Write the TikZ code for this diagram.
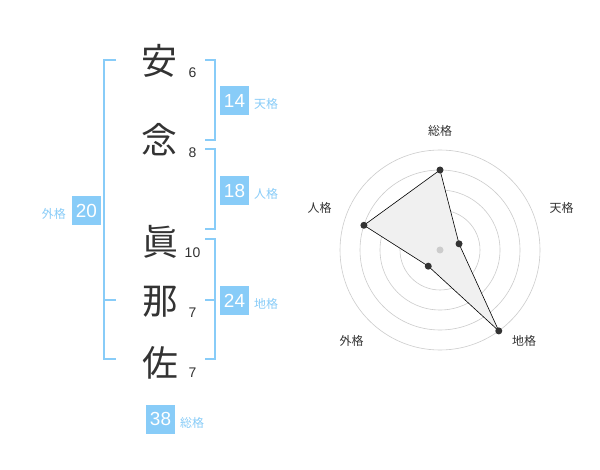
\documentclass[tikz,border=0pt]{standalone}
\usepackage{fontspec}
\usepackage{tikz}
\usetikzlibrary{positioning,calc}
\newfontfamily\jp{Noto Sans CJK JP}
\newfontfamily\num{Liberation Sans}
\definecolor{kblue}{HTML}{88CCF8}
\definecolor{ink}{HTML}{333333}
\tikzstyle{kanji}=[font=\jp\fontsize{36}{36}\selectfont,text=ink,inner sep=0pt]
\tikzstyle{strokes}=[font=\num\fontsize{14}{14}\selectfont,text=ink,inner sep=0pt]
\tikzstyle{brace}=[draw=kblue,line width=2bp]
\tikzstyle{score}=[fill=kblue,text=white,minimum size=29bp,inner sep=0pt,
                font=\num\fontsize{19}{19}\selectfont]
\tikzstyle{kaku}=[font=\jp\fontsize{12}{12}\selectfont,text=kblue,inner sep=0pt]
\tikzstyle{ring}=[draw=black!20,line width=0.6bp]
\tikzstyle{axis label}=[font=\jp\fontsize{12}{12}\selectfont,text=ink,inner sep=0pt]
\tikzstyle{pt}=[fill=ink,draw=none]
\begin{document}
\begin{tikzpicture}[x=1bp,y=-1bp]
\useasboundingbox[fill=white] (0,0) rectangle (600,470);
% name
\node[kanji] (k1) at (159.5,61) {安};
\node[kanji] (k2) at (159.5,140) {念};
\node[kanji] (k3) at (160,241.5) {眞};
\node[kanji] (k4) at (160,301.5) {那};
\node[kanji] (k5) at (160,363) {佐};
\node[strokes] (s1) at (192.5,72.5) {6};
\node[strokes] (s2) at (192.5,152.5) {8};
\node[strokes] (s3) at (192.5,252.5) {10};
\node[strokes] (s4) at (192.5,312.5) {7};
\node[strokes] (s5) at (192.5,372.5) {7};
% brackets
\draw[brace] (205,60) -- (215,60) -- (215,140) -- (205,140);
\draw[brace] (205,149) -- (215,149) -- (215,229) -- (205,229);
\draw[brace] (205,239) -- (215,239) -- (215,359) -- (205,359) (205,300) -- (215,300);
\draw[brace] (116,60) -- (104,60) -- (104,359) -- (116,359) (104,300) -- (116,300);
% scores
\node[score] (ten) at (234.5,100.5) {14};
\node[score] (jin) at (234.5,190.5) {18};
\node[score] (chi) at (234.5,300.5) {24};
\node[score] (gai) at (86.5,210.5) {20};
\node[score] (sou) at (160.5,419) {38};
\node[kaku,anchor=west] at (254,104) {天格};
\node[kaku,anchor=west] at (254,194) {人格};
\node[kaku,anchor=west] at (254,304) {地格};
\node[kaku,anchor=east] at (66,213.5) {外格};
\node[kaku,anchor=west] at (180,422.5) {総格};
% radar
\coordinate (c) at (440,250);
\foreach \r in {20,40,...,100}
  \draw[ring] (c) circle (\r);
\coordinate (p1) at ($(c)+(-90:80)$);
\coordinate (p2) at ($(c)+(-18:20)$);
\coordinate (p3) at ($(c)+(54:100)$);
\coordinate (p4) at ($(c)+(126:20)$);
\coordinate (p5) at ($(c)+(-162:80)$);
\draw[fill=black!6,line width=0.6bp] (p1) -- (p2) -- (p3) -- (p4) -- (p5) -- cycle;
\fill[black!20] (c) circle (3.5);
\foreach \p in {p1,p2,p3,p4,p5}
  \fill[pt] (\p) circle (3.5);
\node[axis label] (a1) at (440,130.5) {総格};
\node[axis label] (a2) at (561.5,208) {天格};
\node[axis label] (a3) at (524,341) {地格};
\node[axis label] (a4) at (351.5,341) {外格};
\node[axis label] (a5) at (319.5,208) {人格};
\end{tikzpicture}
\end{document}
